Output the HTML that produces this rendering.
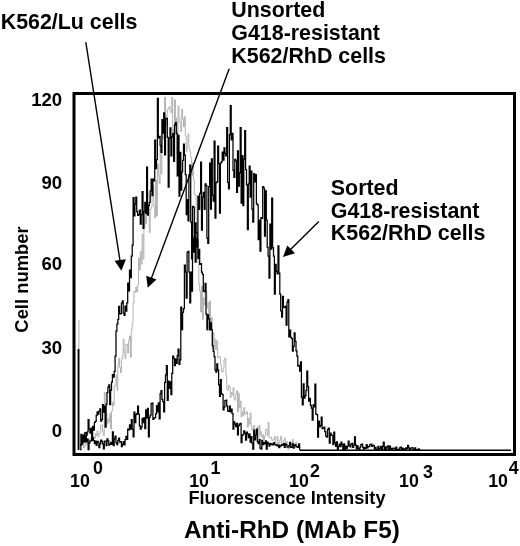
<!DOCTYPE html>
<html><head><meta charset="utf-8"><style>
html,body{margin:0;padding:0;background:#fff;}
body{width:520px;height:546px;overflow:hidden;position:relative;}
svg{position:absolute;left:0;top:0;will-change:transform;}
text{font-family:"Liberation Sans",sans-serif;font-weight:bold;fill:#000;}
</style></head><body>
<svg width="520" height="546" viewBox="0 0 520 546">
<rect x="0" y="0" width="520" height="546" fill="#fff"/>
<line x1="78.9" y1="320" x2="78.9" y2="450" stroke="#aaa" stroke-width="1"/>
<line x1="78.5" y1="349" x2="78.5" y2="450" stroke="#000" stroke-width="1.8"/>
<line x1="300" y1="450.3" x2="511" y2="450.3" stroke="#000" stroke-width="1.4"/>
<path d="M80.00 446.35 H80.90 V444.42 H81.80 V444.05 H82.70 V438.99 H83.60 V448.00 H84.50 V446.06 H85.40 V441.94 H86.30 V444.23 H87.20 V442.44 H88.10 V439.60 H89.00 V443.39 H89.90 V439.15 H90.80 V438.36 H91.70 V436.15 H92.60 V439.39 H93.50 V436.87 H94.40 V438.35 H95.30 V433.62 H96.20 V435.50 H97.10 V431.03 H98.00 V436.78 H98.90 V433.61 H99.80 V433.46 H100.70 V425.00 H101.60 V424.90 H102.50 V431.08 H103.40 V435.43 H104.30 V392.50 H105.20 V414.51 H106.10 V413.81 H107.00 V424.06 H107.90 V418.85 H108.80 V422.23 H109.70 V413.70 H110.60 V429.00 H111.50 V411.18 H112.40 V402.00 H113.30 V405.72 H114.20 V386.12 H115.10 V384.80 H116.00 V375.00 H116.90 V390.17 H117.80 V365.60 H118.70 V358.15 H119.60 V367.50 H120.50 V372.85 H121.40 V359.74 H122.30 V356.00 H123.20 V339.30 H124.10 V352.40 H125.00 V358.69 H125.90 V344.00 H126.80 V344.68 H127.70 V353.00 H128.60 V340.01 H129.50 V336.00 H130.40 V357.12 H131.30 V329.73 H132.20 V322.70 H133.10 V303.00 H134.00 V291.40 H134.90 V292.31 H135.80 V287.09 H136.70 V292.00 H137.60 V285.29 H138.50 V258.05 H139.40 V270.00 H140.30 V251.60 H141.20 V264.07 H142.10 V234.00 H143.00 V259.00 H143.90 V226.78 H144.80 V211.35 H145.70 V223.50 H146.60 V212.40 H147.50 V193.19 H148.40 V196.19 H149.30 V232.43 H150.20 V209.51 H151.10 V207.45 H152.00 V194.24 H152.90 V185.07 H153.80 V206.32 H154.70 V218.00 H155.60 V180.00 H156.50 V216.00 H157.40 V164.08 H158.30 V175.70 H159.20 V183.74 H160.10 V145.81 H161.00 V174.02 H161.90 V132.00 H162.80 V138.93 H163.70 V116.16 H164.60 V97.00 H165.50 V125.80 H166.40 V115.88 H167.30 V109.52 H168.20 V108.32 H169.10 V106.50 H170.00 V110.33 H170.90 V112.63 H171.80 V97.40 H172.70 V132.50 H173.60 V129.38 H174.50 V99.80 H175.40 V126.49 H176.30 V118.00 H177.20 V154.45 H178.10 V105.94 H179.00 V118.00 H179.90 V122.00 H180.80 V131.74 H181.70 V109.14 H182.60 V119.00 H183.50 V127.03 H184.40 V116.60 H185.30 V136.00 H186.20 V151.38 H187.10 V143.15 H188.00 V133.89 H188.90 V148.90 H189.80 V151.37 H190.70 V157.40 H191.60 V175.60 H192.50 V162.90 H193.40 V179.81 H194.30 V194.39 H195.20 V195.51 H196.10 V219.17 H197.00 V238.75 H197.90 V262.53 H198.80 V283.65 H199.70 V291.00 H200.60 V312.00 H201.50 V286.28 H202.40 V319.45 H203.30 V297.74 H204.20 V304.95 H205.10 V289.42 H206.00 V291.00 H206.90 V308.00 H207.80 V302.52 H208.70 V316.07 H209.60 V300.85 H210.50 V329.47 H211.40 V317.70 H212.30 V348.98 H213.20 V332.86 H214.10 V349.81 H215.00 V339.30 H215.90 V349.72 H216.80 V340.89 H217.70 V358.00 H218.60 V356.62 H219.50 V356.52 H220.40 V364.05 H221.30 V370.59 H222.20 V372.09 H223.10 V368.20 H224.00 V360.06 H224.90 V358.00 H225.80 V375.00 H226.70 V388.70 H227.60 V390.08 H228.50 V385.23 H229.40 V386.97 H230.30 V397.41 H231.20 V392.50 H232.10 V395.02 H233.00 V387.72 H233.90 V398.00 H234.80 V400.20 H235.70 V394.13 H236.60 V390.60 H237.50 V411.80 H238.40 V393.20 H239.30 V407.77 H240.20 V401.02 H241.10 V416.79 H242.00 V411.80 H242.90 V415.60 H243.80 V407.77 H244.70 V414.27 H245.60 V413.73 H246.50 V411.80 H247.40 V427.00 H248.30 V418.33 H249.20 V424.23 H250.10 V413.07 H251.00 V425.96 H251.90 V430.02 H252.80 V428.00 H253.70 V425.46 H254.60 V431.61 H255.50 V438.06 H256.40 V431.39 H257.30 V426.70 H258.20 V437.63 H259.10 V425.27 H260.00 V435.17 H260.90 V431.75 H261.80 V437.75 H262.70 V434.80 H263.60 V439.81 H264.50 V436.47 H265.40 V429.69 H266.30 V429.27 H267.20 V435.40 H268.10 V422.30 H269.00 V437.62 H269.90 V437.78 H270.80 V437.16 H271.70 V440.60 H272.60 V439.83 H273.50 V439.87 H274.40 V436.37 H275.30 V443.27 H276.20 V444.07 H277.10 V436.60 H278.00 V447.22 H278.90 V442.99 H279.80 V439.92 H280.70 V436.41 H281.60 V443.61 H282.50 V443.58 H283.40 V440.81 H284.30 V438.03 H285.20 V445.61 H286.10 V441.58 H287.00 V442.11 H287.90 V449.50 H288.80 V448.68 H289.70 V446.12 H290.60 V443.09 H291.50 V445.75 H292.40 V439.48 H293.30 V444.89 H294.20 V443.23 H295.10 V442.35 H296.00 V441.97 H296.90 V446.43 H297.80 V445.74 H298.70 V446.05 H299.60 V447.51 H300.50" fill="none" stroke="#aaa" stroke-width="0.9"/>
<path d="M80.00 449.50 H80.90 V434.30 H81.80 V444.24 H82.70 V440.79 H83.60 V441.09 H84.50 V441.81 H85.40 V435.44 H86.30 V441.56 H87.20 V439.24 H88.10 V449.50 H89.00 V442.90 H89.90 V440.75 H90.80 V440.99 H91.70 V439.61 H92.60 V438.23 H93.50 V440.60 H94.40 V443.72 H95.30 V441.15 H96.20 V445.43 H97.10 V441.29 H98.00 V442.09 H98.90 V447.53 H99.80 V443.95 H100.70 V440.19 H101.60 V441.35 H102.50 V443.93 H103.40 V448.92 H104.30 V441.04 H105.20 V441.13 H106.10 V445.59 H107.00 V438.83 H107.90 V440.96 H108.80 V445.16 H109.70 V444.08 H110.60 V442.33 H111.50 V444.40 H112.40 V431.88 H113.30 V445.65 H114.20 V438.57 H115.10 V436.03 H116.00 V442.99 H116.90 V444.51 H117.80 V440.41 H118.70 V438.15 H119.60 V442.09 H120.50 V441.64 H121.40 V446.71 H122.30 V444.03 H123.20 V441.67 H124.10 V444.94 H125.00 V439.53 H125.90 V436.34 H126.80 V439.48 H127.70 V429.00 H128.60 V429.76 H129.50 V424.88 H130.40 V429.17 H131.30 V419.50 H132.20 V429.18 H133.10 V436.80 H134.00 V412.23 H134.90 V422.51 H135.80 V414.66 H136.70 V413.70 H137.60 V406.20 H138.50 V414.33 H139.40 V425.80 H140.30 V429.15 H141.20 V427.00 H142.10 V418.48 H143.00 V422.51 H143.90 V417.50 H144.80 V428.64 H145.70 V409.80 H146.60 V418.09 H147.50 V408.41 H148.40 V436.80 H149.30 V417.32 H150.20 V415.02 H151.10 V403.74 H152.00 V403.00 H152.90 V419.39 H153.80 V418.15 H154.70 V417.50 H155.60 V413.95 H156.50 V405.68 H157.40 V411.80 H158.30 V402.95 H159.20 V418.88 H160.10 V393.52 H161.00 V390.60 H161.90 V399.39 H162.80 V401.62 H163.70 V411.80 H164.60 V382.40 H165.50 V374.76 H166.40 V365.60 H167.30 V400.43 H168.20 V381.00 H169.10 V388.31 H170.00 V381.77 H170.90 V394.50 H171.80 V373.35 H172.70 V356.00 H173.60 V358.48 H174.50 V365.57 H175.40 V359.07 H176.30 V363.34 H177.20 V355.60 H178.10 V349.00 H179.00 V364.42 H179.90 V359.77 H180.80 V307.11 H181.70 V329.70 H182.60 V312.36 H183.50 V308.50 H184.40 V265.14 H185.30 V272.00 H186.20 V298.17 H187.10 V252.47 H188.00 V251.30 H188.90 V272.00 H189.80 V302.80 H190.70 V272.00 H191.60 V291.00 H192.50 V238.90 H193.40 V252.14 H194.30 V236.39 H195.20 V262.09 H196.10 V238.67 H197.00 V246.96 H197.90 V196.11 H198.80 V209.36 H199.70 V193.30 H200.60 V162.20 H201.50 V230.00 H202.40 V197.14 H203.30 V192.38 H204.20 V209.35 H205.10 V183.99 H206.00 V185.70 H206.90 V238.00 H207.80 V243.26 H208.70 V186.60 H209.60 V163.00 H210.50 V209.00 H211.40 V158.77 H212.30 V195.44 H213.20 V201.07 H214.10 V141.00 H215.00 V218.00 H215.90 V182.53 H216.80 V181.89 H217.70 V146.03 H218.60 V163.70 H219.50 V213.00 H220.40 V163.00 H221.30 V161.70 H222.20 V152.15 H223.10 V160.16 H224.00 V147.80 H224.90 V153.35 H225.80 V155.83 H226.70 V127.60 H227.60 V182.40 H228.50 V188.78 H229.40 V134.70 H230.30 V105.50 H231.20 V139.84 H232.10 V133.30 H233.00 V170.29 H233.90 V177.38 H234.80 V159.30 H235.70 V160.76 H236.60 V192.37 H237.50 V150.75 H238.40 V186.00 H239.30 V172.88 H240.20 V127.60 H241.10 V203.21 H242.00 V155.50 H242.90 V205.60 H243.80 V159.18 H244.70 V130.50 H245.60 V169.56 H246.50 V184.94 H247.40 V229.70 H248.30 V183.93 H249.20 V166.00 H250.10 V197.00 H251.00 V171.10 H251.90 V209.11 H252.80 V222.00 H253.70 V173.62 H254.60 V181.80 H255.50 V174.63 H256.40 V203.92 H257.30 V204.80 H258.20 V239.50 H259.10 V220.04 H260.00 V251.00 H260.90 V217.52 H261.80 V218.29 H262.70 V186.60 H263.60 V188.08 H264.50 V236.03 H265.40 V190.81 H266.30 V220.00 H267.20 V247.00 H268.10 V256.00 H269.00 V278.00 H269.90 V224.00 H270.80 V249.02 H271.70 V198.00 H272.60 V247.52 H273.50 V256.00 H274.40 V294.00 H275.30 V264.40 H276.20 V271.40 H277.10 V273.80 H278.00 V245.84 H278.90 V273.00 H279.80 V294.00 H280.70 V310.90 H281.60 V317.06 H282.50 V296.40 H283.40 V307.50 H284.30 V307.38 H285.20 V306.00 H286.10 V325.00 H287.00 V302.20 H287.90 V299.54 H288.80 V336.80 H289.70 V330.19 H290.60 V337.49 H291.50 V338.70 H292.40 V351.06 H293.30 V346.40 H294.20 V332.83 H295.10 V341.41 H296.00 V350.99 H296.90 V356.00 H297.80 V366.00 H298.70 V365.26 H299.60 V371.00 H300.50 V361.88 H301.40 V397.00 H302.30 V404.83 H303.20 V383.79 H304.10 V398.00 H305.00 V395.52 H305.90 V390.56 H306.80 V371.00 H307.70 V386.72 H308.60 V401.00 H309.50 V398.35 H310.40 V405.37 H311.30 V408.00 H312.20 V420.13 H313.10 V404.80 H314.00 V406.79 H314.90 V384.00 H315.80 V414.00 H316.70 V414.61 H317.60 V437.00 H318.50 V421.10 H319.40 V426.82 H320.30 V425.36 H321.20 V417.00 H322.10 V428.63 H323.00 V428.29 H323.90 V427.00 H324.80 V431.59 H325.70 V436.08 H326.60 V437.00 H327.50 V429.30 H328.40 V428.00 H329.30 V443.12 H330.20 V433.14 H331.10 V435.00 H332.00 V435.35 H332.90 V444.50 H333.80 V432.11 H334.70 V442.76 H335.60 V446.40 H336.50 V441.78 H337.40 V449.04 H338.30 V446.64 H339.20 V444.14 H340.10 V446.52 H341.00 V442.19 H341.90 V444.68 H342.80 V449.50 H343.70 V443.98 H344.60 V449.50 H345.50 V446.08 H346.40 V448.73 H347.30 V446.47 H348.20 V441.04 H349.10 V445.09 H350.00 V446.95 H350.90 V443.84 H351.80 V443.44 H352.70 V447.48 H353.60 V445.18 H354.50 V436.80 H355.40 V445.21 H356.30 V448.76 H357.20 V445.80 H358.10 V448.99 H359.00 V449.50 H359.90 V447.07 H360.80 V444.57 H361.70 V444.24 H362.60 V447.04 H363.50 V449.02 H364.40 V447.74 H365.30 V448.36 H366.20 V444.50 H367.10 V447.89 H368.00 V446.32 H368.90 V446.66 H369.80 V444.72 H370.70 V444.20 H371.60 V446.46 H372.50 V445.24 H373.40 V445.59 H374.30 V448.87 H375.20 V447.36 H376.10 V449.50 H377.00 V449.44 H377.90 V446.45 H378.80 V449.20 H379.70 V448.42 H380.60 V446.48 H381.50 V449.50 H382.40 V446.40 H383.30 V442.23 H384.20 V449.36 H385.10 V446.82 H386.00 V449.50 H386.90 V446.85 H387.80 V445.95 H388.70 V449.50 H389.60 V446.24 H390.50 V448.49 H391.40 V449.50 H392.30 V448.40 H393.20 V448.11 H394.10 V448.45 H395.00 V449.50 H395.90 V447.03 H396.80 V449.36 H397.70 V449.33 H398.60 V449.50 H399.50 V447.96 H400.40 V447.11 H401.30 V449.50 H402.20 V448.02 H403.10 V449.08 H404.00 V448.89 H404.90 V449.50 H405.80 V447.88 H406.70 V448.71 H407.60 V445.46 H408.50 V447.76 H409.40 V449.50 H410.30 V448.16 H411.20 V448.20 H412.10 V447.65 H413.00 V449.50 H413.90 V449.40 H414.80 V447.93 H415.70 V449.50 H416.60 V449.50 H417.50 V449.50 H418.40 V448.80 H419.30 V449.50 H420.20" fill="none" stroke="#000" stroke-width="1.25"/>
<path d="M80.00 444.90 H80.90 V444.95 H81.80 V442.17 H82.70 V435.22 H83.60 V441.55 H84.50 V433.00 H85.40 V432.71 H86.30 V435.12 H87.20 V431.86 H88.10 V419.50 H89.00 V429.47 H89.90 V433.10 H90.80 V428.00 H91.70 V440.00 H92.60 V426.44 H93.50 V430.06 H94.40 V422.30 H95.30 V421.38 H96.20 V415.44 H97.10 V411.80 H98.00 V414.05 H98.90 V411.32 H99.80 V408.90 H100.70 V421.00 H101.60 V419.50 H102.50 V404.66 H103.40 V412.21 H104.30 V406.00 H105.20 V427.00 H106.10 V404.00 H107.00 V392.50 H107.90 V387.08 H108.80 V384.80 H109.70 V404.62 H110.60 V390.08 H111.50 V382.00 H112.40 V374.59 H113.30 V377.00 H114.20 V371.40 H115.10 V356.00 H116.00 V331.00 H116.90 V324.15 H117.80 V319.40 H118.70 V306.33 H119.60 V313.98 H120.50 V313.69 H121.40 V303.00 H122.30 V300.96 H123.20 V313.20 H124.10 V315.28 H125.00 V306.16 H125.90 V311.00 H126.80 V302.96 H127.70 V283.20 H128.60 V290.76 H129.50 V270.00 H130.40 V277.67 H131.30 V256.00 H132.20 V245.00 H133.10 V197.70 H134.00 V215.88 H134.90 V203.80 H135.80 V197.10 H136.70 V211.50 H137.60 V215.28 H138.50 V214.60 H139.40 V210.00 H140.30 V224.09 H141.20 V214.60 H142.10 V191.50 H143.00 V228.29 H143.90 V211.50 H144.80 V202.30 H145.70 V213.45 H146.60 V167.00 H147.50 V215.09 H148.40 V205.40 H149.30 V202.30 H150.20 V190.92 H151.10 V179.20 H152.00 V195.52 H152.90 V179.12 H153.80 V180.80 H154.70 V140.08 H155.60 V168.50 H156.50 V159.60 H157.40 V98.40 H158.30 V137.76 H159.20 V136.30 H160.10 V145.26 H161.00 V152.30 H161.90 V119.50 H162.80 V133.21 H163.70 V112.80 H164.60 V154.96 H165.50 V118.78 H166.40 V118.00 H167.30 V137.25 H168.20 V187.00 H169.10 V138.00 H170.00 V127.79 H170.90 V155.82 H171.80 V136.92 H172.70 V133.50 H173.60 V161.47 H174.50 V124.80 H175.40 V122.51 H176.30 V133.50 H177.20 V175.99 H178.10 V135.40 H179.00 V196.00 H179.90 V152.42 H180.80 V190.00 H181.70 V171.93 H182.60 V160.37 H183.50 V144.00 H184.40 V155.22 H185.30 V174.60 H186.20 V214.60 H187.10 V199.73 H188.00 V220.92 H188.90 V174.98 H189.80 V165.24 H190.70 V222.01 H191.60 V258.88 H192.50 V206.42 H193.40 V207.11 H194.30 V240.77 H195.20 V222.90 H196.10 V232.75 H197.00 V240.20 H197.90 V258.45 H198.80 V249.38 H199.70 V264.43 H200.60 V263.65 H201.50 V272.00 H202.40 V274.34 H203.30 V291.00 H204.20 V291.55 H205.10 V283.31 H206.00 V314.00 H206.90 V329.55 H207.80 V314.94 H208.70 V318.99 H209.60 V329.82 H210.50 V322.79 H211.40 V329.70 H212.30 V345.56 H213.20 V351.37 H214.10 V356.60 H215.00 V370.01 H215.90 V372.00 H216.80 V363.84 H217.70 V369.90 H218.60 V384.80 H219.50 V396.40 H220.40 V379.58 H221.30 V393.63 H222.20 V394.50 H223.10 V409.80 H224.00 V407.09 H224.90 V400.69 H225.80 V400.01 H226.70 V406.00 H227.60 V411.01 H228.50 V411.32 H229.40 V406.00 H230.30 V411.87 H231.20 V409.02 H232.10 V413.70 H233.00 V429.00 H233.90 V421.95 H234.80 V424.17 H235.70 V426.61 H236.60 V423.30 H237.50 V434.80 H238.40 V425.70 H239.30 V424.11 H240.20 V423.30 H241.10 V442.50 H242.00 V435.17 H242.90 V434.59 H243.80 V430.93 H244.70 V433.00 H245.60 V440.00 H246.50 V432.16 H247.40 V433.96 H248.30 V437.65 H249.20 V434.00 H250.10 V442.00 H251.00 V436.73 H251.90 V443.14 H252.80 V449.00 H253.70 V430.11 H254.60 V439.98 H255.50 V434.93 H256.40 V429.00 H257.30 V441.91 H258.20 V443.58 H259.10 V439.34 H260.00 V448.15 H260.90 V449.00 H261.80 V440.44 H262.70 V444.55 H263.60 V442.50 H264.50 V443.84 H265.40 V440.80 H266.30 V449.02 H267.20 V442.01 H268.10 V443.89 H269.00 V446.02 H269.90 V443.43 H270.80 V444.51 H271.70 V443.85 H272.60 V444.95 H273.50 V442.66 H274.40 V444.44 H275.30 V445.06 H276.20 V444.88 H277.10 V445.84 H278.00 V445.16 H278.90 V447.52 H279.80 V445.29 H280.70 V445.75 H281.60 V444.68 H282.50 V445.02 H283.40 V443.53 H284.30 V447.29 H285.20 V443.91 H286.10 V444.78 H287.00 V447.08 H287.90 V447.21 H288.80 V445.64 H289.70 V442.45 H290.60 V447.36 H291.50 V447.09 H292.40 V443.85 H293.30 V448.16 H294.20 V445.36 H295.10 V444.59 H296.00 V446.98 H296.90 V446.51 H297.80 V447.27 H298.70 V443.94 H299.60 V449.50 H300.50" fill="none" stroke="#000" stroke-width="1.25"/>
<rect x="74" y="93.5" width="440.5" height="361" fill="none" stroke="#000" stroke-width="3"/>
<line x1="85.8" y1="42.1" x2="120.2" y2="262" stroke="#000" stroke-width="1.4"/><polygon points="121.4,270.8 114.6,260.8 125.9,259.2" fill="#000"/><line x1="229.2" y1="68.7" x2="151.5" y2="278" stroke="#000" stroke-width="1.4"/><polygon points="147.7,287.7 146.2,275.8 156.5,279.6" fill="#000"/><line x1="318.8" y1="221.4" x2="290.5" y2="249.5" stroke="#000" stroke-width="1.4"/><polygon points="283.0,257.0 287.3,245.5 295.0,253.2" fill="#000"/>
<text transform="translate(0.71,28.75) scale(1,1.045)" font-size="21.40" >K562/Lu cells</text><text transform="translate(231.32,16.90) scale(1,1.03)" font-size="21.40" >Unsorted</text><text transform="translate(231.32,39.90) scale(1,1.03)" font-size="21.40" >G418-resistant</text><text transform="translate(231.32,62.90) scale(1,1.03)" font-size="21.40" >K562/RhD cells</text><text transform="translate(330.83,195.00) scale(1,1.03)" font-size="21.40" >Sorted</text><text transform="translate(330.83,217.80) scale(1,1.03)" font-size="21.40" >G418-resistant</text><text transform="translate(330.83,240.40) scale(1,1.03)" font-size="21.40" >K562/RhD cells</text><text x="62.2" y="105.60" font-size="18.6" text-anchor="end">120</text><text x="62.2" y="189.00" font-size="18.6" text-anchor="end">90</text><text x="62.2" y="269.60" font-size="18.6" text-anchor="end">60</text><text x="62.2" y="354.30" font-size="18.6" text-anchor="end">30</text><text x="62.2" y="437.40" font-size="18.6" text-anchor="end">0</text><text transform="translate(28.2,332.64) rotate(-90)" x="0" y="0" font-size="18.4">Cell number</text><text x="70.04" y="486.80" font-size="17.80" >10</text><text x="92.99" y="474.20" font-size="17.80" >0</text><text x="189.24" y="486.80" font-size="17.80" >10</text><text x="210.56" y="473.60" font-size="17.80" >1</text><text x="289.04" y="486.80" font-size="17.80" >10</text><text x="309.98" y="476.70" font-size="17.80" >2</text><text x="399.04" y="486.80" font-size="17.80" >10</text><text x="423.06" y="478.10" font-size="17.80" >3</text><text x="488.24" y="486.80" font-size="17.80" >10</text><text x="508.73" y="474.20" font-size="17.80" >4</text><text x="188.42" y="504.00" font-size="18.20" >Fluorescence Intensity</text><text x="183.89" y="538.30" font-size="24.30" >Anti-RhD (MAb F5)</text>
</svg>
</body></html>
